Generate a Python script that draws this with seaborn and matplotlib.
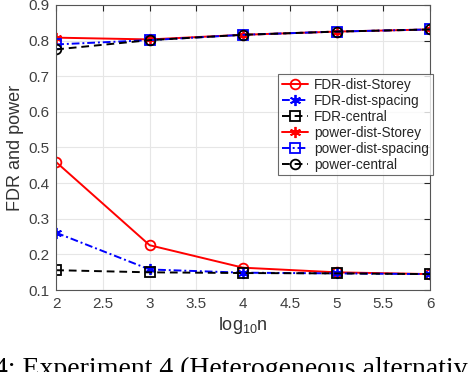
import numpy as np
import pandas as pd
import seaborn as sns
import matplotlib.pyplot as plt

# x values (log10 n)
log_n = [2, 3, 4, 5, 6]

# series
fdr_dist_storey = [0.459, 0.226, 0.163, 0.150, 0.145]
fdr_dist_spacing = [0.261, 0.158, 0.149, 0.147, 0.145]
fdr_central = [0.156, 0.150, 0.148, 0.147, 0.145]
power_dist_storey = [0.808, 0.803, 0.816, 0.825, 0.831]
power_dist_spacing = [0.789, 0.801, 0.816, 0.825, 0.831]
power_central = [0.775, 0.801, 0.816, 0.825, 0.831]

labels = ['FDR-dist-Storey', 'FDR-dist-spacing', 'FDR-central',
          'power-dist-Storey', 'power-dist-spacing', 'power-central']
values = [fdr_dist_storey, fdr_dist_spacing, fdr_central,
          power_dist_storey, power_dist_spacing, power_central]

# style per series: color, line style, marker, filled marker?
asterisk = (6, 2, 0)
styles = [
    ('red', '-', 'o', False),
    ('blue', (0, (4, 1.5, 1, 1.5)), asterisk, True),
    ('black', (0, (4, 2.5)), 's', False),
    ('red', '-', asterisk, True),
    ('blue', (0, (4, 1.5, 1, 1.5)), 's', False),
    ('black', (0, (4, 2.5)), 'o', False),
]

df = pd.DataFrame({'log_n': log_n})
for lab, vals in zip(labels, values):
    df[lab] = vals

sns.set_style('white')
plt.rcParams['font.family'] = ['Liberation Sans', 'DejaVu Sans']

fig = plt.figure(figsize=(4.68, 3.72), dpi=100)
ax = fig.add_axes([0.12, 0.22, 0.799, 0.767])

for lab, (col, ls, mk, filled) in zip(labels, styles):
    sns.lineplot(data=df, x='log_n', y=lab, ax=ax, color=col, linestyle=ls,
                 linewidth=1.4, marker=mk, markersize=7 if mk != asterisk else 8,
                 markerfacecolor=col if filled else 'none',
                 markeredgecolor=col, markeredgewidth=1.3, label=lab)

ax.set_xlim(2, 6)
ax.set_ylim(0.1, 0.9)
ax.set_xticks([2, 2.5, 3, 3.5, 4, 4.5, 5, 5.5, 6])
ax.set_xticklabels(['2', '2.5', '3', '3.5', '4', '4.5', '5', '5.5', '6'])
ax.set_yticks(np.arange(0.1, 0.91, 0.1))
ax.set_yticklabels(['0.1', '0.2', '0.3', '0.4', '0.5', '0.6', '0.7', '0.8', '0.9'])
ax.grid(True, color='#e6e6e6', linewidth=0.8)
ax.set_axisbelow(True)
ax.tick_params(direction='in', length=4, top=True, right=True, labelsize=11,
               colors='#262626', labelcolor='#404040', pad=5)
for sp in ax.spines.values():
    sp.set_color('#555555')
    sp.set_linewidth(0.8)

ax.set_xlabel(r'$\mathregular{log_{10}n}$', fontsize=13, color='#333333', labelpad=3)
ax.set_ylabel('FDR and power', fontsize=13, color='#333333', labelpad=3)

leg = ax.legend(loc='upper left', bbox_to_anchor=(0.594, 0.757), fontsize=9.8,
                frameon=True, fancybox=False, edgecolor='#444444',
                borderpad=0.25, labelspacing=0.15, handlelength=1.9,
                handletextpad=0.5, borderaxespad=0)
leg.get_frame().set_linewidth(0.8)

# caption cut off by the crop
fig.text(-0.012, 0.04, '4: Experiment 4 (Heterogeneous alternatives)',
         family='Liberation Serif', fontsize=20, color='black', ha='left', va='top')

fig.savefig('out.png', dpi=100)
